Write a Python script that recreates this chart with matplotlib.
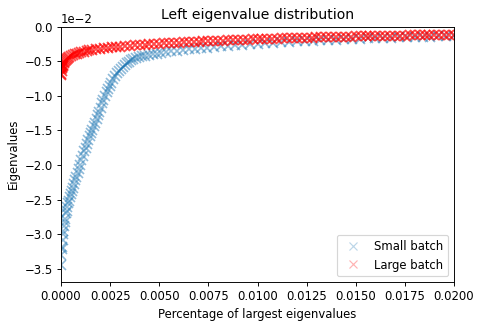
import numpy as np
import matplotlib
matplotlib.use('Agg')
import matplotlib.pyplot as plt

# data (y in units of 1e-2)
small_x = [0.00000, 0.00002, 0.00004, 0.00006, 0.00008, 0.00010, 0.00012, 0.00015, 0.00018, 0.00021,
           0.00024, 0.00028, 0.00032, 0.00036, 0.00040, 0.00045, 0.00050, 0.00055, 0.00060, 0.00066,
           0.00072, 0.00078, 0.00084, 0.00090, 0.00097, 0.00104, 0.00111, 0.00118, 0.00125, 0.00132,
           0.00139, 0.00146, 0.00153, 0.00160, 0.00167, 0.00174, 0.00181, 0.00188, 0.00195, 0.00202,
           0.00209, 0.00216, 0.00224, 0.00232, 0.00240, 0.00248, 0.00256, 0.00265, 0.00275, 0.00285,
           0.00295, 0.00305, 0.00315, 0.00325, 0.00335, 0.00345, 0.00355, 0.00367, 0.00380, 0.00395,
           0.00410, 0.00430, 0.00450, 0.00470, 0.00490, 0.00510, 0.00535, 0.00560, 0.00590, 0.00620,
           0.00650, 0.00680, 0.00710, 0.00745, 0.00780, 0.00815, 0.00850, 0.00885, 0.00920, 0.00960,
           0.01000, 0.01040, 0.01080, 0.01120, 0.01160, 0.01200, 0.01240, 0.01280, 0.01320, 0.01360,
           0.01400, 0.01440, 0.01480, 0.01520, 0.01560, 0.01600, 0.01640, 0.01680, 0.01720, 0.01760,
           0.01800, 0.01840, 0.01880, 0.01920, 0.01960, 0.02000, 0.02040]
small_y = [-3.45, -3.30, -3.18, -3.22, -3.08, -3.00, -2.95, -2.88, -2.78, -2.82,
           -2.70, -2.66, -2.60, -2.55, -2.52, -2.46, -2.42, -2.38, -2.33, -2.27,
           -2.22, -2.17, -2.11, -2.06, -2.00, -1.93, -1.87, -1.80, -1.76, -1.70,
           -1.64, -1.58, -1.54, -1.49, -1.44, -1.40, -1.34, -1.28, -1.23, -1.17,
           -1.11, -1.06, -1.00, -0.95, -0.90, -0.86, -0.81, -0.76, -0.71, -0.67,
           -0.64, -0.61, -0.58, -0.56, -0.53, -0.51, -0.49, -0.47, -0.45, -0.44,
           -0.43, -0.42, -0.41, -0.40, -0.39, -0.38, -0.37, -0.36, -0.35, -0.34,
           -0.33, -0.32, -0.315, -0.305, -0.295, -0.285, -0.28, -0.27, -0.265, -0.255,
           -0.248, -0.24, -0.235, -0.228, -0.222, -0.216, -0.21, -0.205, -0.20, -0.195,
           -0.19, -0.185, -0.18, -0.176, -0.172, -0.168, -0.165, -0.162, -0.158, -0.155,
           -0.152, -0.149, -0.146, -0.143, -0.141, -0.139, -0.137]

large_x = [0.00000, 0.00001, 0.00002, 0.00003, 0.00004, 0.00005, 0.00006, 0.00008, 0.00010, 0.00013,
           0.00016, 0.00020, 0.00025, 0.00030, 0.00036, 0.00042, 0.00050, 0.00060, 0.00070, 0.00080,
           0.00090, 0.00100, 0.00115, 0.00130, 0.00145, 0.00160, 0.00180, 0.00200, 0.00220, 0.00240,
           0.00260, 0.00280, 0.00300, 0.00325, 0.00350, 0.00375, 0.00400, 0.00425, 0.00450, 0.00475,
           0.00500, 0.00525, 0.00550, 0.00575, 0.00600, 0.00625, 0.00650, 0.00675, 0.00700, 0.00725,
           0.00750, 0.00775, 0.00800, 0.00825, 0.00850, 0.00875, 0.00900, 0.00925, 0.00950, 0.00975,
           0.01000, 0.01025, 0.01050, 0.01075, 0.01100, 0.01125, 0.01150, 0.01175, 0.01200, 0.01225,
           0.01250, 0.01275, 0.01300, 0.01325, 0.01350, 0.01375, 0.01400, 0.01425, 0.01450, 0.01475,
           0.01500, 0.01525, 0.01550, 0.01575, 0.01600, 0.01625, 0.01650, 0.01675, 0.01700, 0.01725,
           0.01750, 0.01775, 0.01800, 0.01825, 0.01850, 0.01875, 0.01900, 0.01925, 0.01950, 0.01975,
           0.02000, 0.02025]
large_y = [-0.68, -0.70, -0.62, -0.55, -0.60, -0.64, -0.58, -0.565, -0.55, -0.53,
           -0.515, -0.50, -0.48, -0.465, -0.45, -0.44, -0.425, -0.41, -0.40, -0.39,
           -0.38, -0.372, -0.362, -0.352, -0.344, -0.337, -0.328, -0.32, -0.313, -0.306,
           -0.30, -0.294, -0.289, -0.283, -0.278, -0.272, -0.267, -0.262, -0.257, -0.253,
           -0.249, -0.245, -0.241, -0.237, -0.233, -0.229, -0.225, -0.222, -0.218, -0.215,
           -0.212, -0.209, -0.206, -0.203, -0.200, -0.197, -0.195, -0.192, -0.190, -0.187,
           -0.185, -0.182, -0.180, -0.177, -0.175, -0.173, -0.170, -0.168, -0.166, -0.164,
           -0.162, -0.160, -0.158, -0.156, -0.154, -0.152, -0.150, -0.148, -0.147, -0.145,
           -0.143, -0.142, -0.140, -0.139, -0.137, -0.136, -0.134, -0.133, -0.132, -0.131,
           -0.130, -0.129, -0.128, -0.127, -0.1265, -0.126, -0.125, -0.1245, -0.124, -0.1235,
           -0.123, -0.1225]

small_y = np.array(small_y) * 1e-2
large_y = np.array(large_y) * 1e-2

fig = plt.figure(figsize=(483 / 84, 326 / 84), dpi=84)
ax = fig.add_axes([61 / 483, 44 / 326, 393 / 483, 255.5 / 326])

ax.plot(small_x, small_y, 'x', color='C0', alpha=0.5, ms=8, mew=1.4, label='Small batch')
ax.plot(large_x, large_y, 'x', color='red', alpha=0.7, ms=8, mew=1.6, label='Large batch')

ax.set_xlim(0, 0.02)
ax.set_ylim(-0.0369, 0)
ax.ticklabel_format(axis='y', style='sci', scilimits=(0, 0))
ax.set_title('Left eigenvalue distribution')
ax.set_xlabel('Percentage of largest eigenvalues')
ax.set_ylabel('Eigenvalues')
leg = ax.legend(loc='lower right')
for h in leg.legend_handles:
    h.set_alpha(0.3)
    h.set_markersize(7)
    h.set_markeredgewidth(1.0)

fig.savefig('out.png', dpi=84)
